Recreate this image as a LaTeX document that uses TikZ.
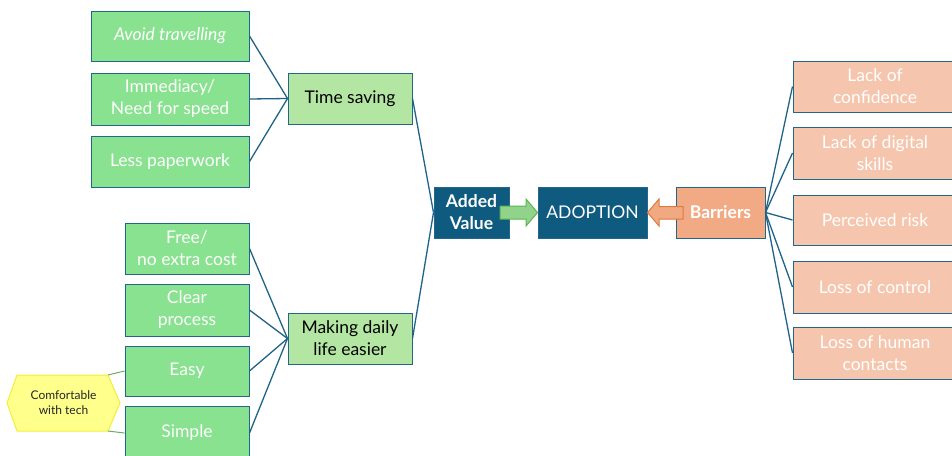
\documentclass[tikz,border=0pt]{standalone}
\usepackage{fontspec}
\setmainfont{Lato}
\definecolor{leafgreen}{HTML}{88E28F}
\definecolor{midgreen}{HTML}{B3E6A2}
\definecolor{edge}{HTML}{22678A}
\definecolor{conn}{HTML}{1F6388}
\definecolor{darkblue}{HTML}{0F5B80}
\definecolor{barrier}{HTML}{F1AA84}
\definecolor{peach}{HTML}{F5C6AD}
\definecolor{hexfill}{HTML}{FFFF8C}
\definecolor{hexedge}{HTML}{F2EE3A}
\definecolor{arrgreen}{HTML}{92D38C}
\definecolor{arrgreenedge}{HTML}{5CB54E}
\definecolor{arrorange}{HTML}{F1A982}
\definecolor{arrorangeedge}{HTML}{DF7A42}
\definecolor{hexline}{HTML}{6DAE5E}
\tikzset{
  base/.style={draw=edge, line width=1pt, inner sep=0pt, align=center,
    font=\fontsize{17.5}{22}\selectfont},
  leaf/.style={base, fill=leafgreen, text=white, minimum width=158pt},
  leafb/.style={base, fill=leafgreen, text=white, minimum width=124pt},
  mid/.style={base, fill=midgreen, text=black, minimum width=124pt},
  core/.style={base, fill=darkblue, text=white},
  barr/.style={base, fill=barrier, text=white, font=\fontsize{17.5}{22}\selectfont\bfseries},
  right/.style={base, fill=peach, text=white, minimum width=164pt},
  link/.style={draw=conn, line width=1.3pt},
  hexlink/.style={draw=hexline, line width=1pt}
}
\begin{document}
\begin{tikzpicture}[x=1pt,y=-1pt]
\useasboundingbox (0,0) rectangle (952,455);
\begin{scope}
\clip (0,0) rectangle (952,455);
% left top
\node[leaf, minimum height=50pt, font=\fontsize{17.5}{22}\selectfont\itshape] (avoid) at (170,36) {Avoid travelling};
\node[leaf, minimum height=52pt] (imm) at (170,99) {Immediacy/\\Need for speed};
\node[leaf, minimum height=51pt] (less) at (170,161.5) {Less paperwork};
\node[mid, minimum height=51pt] (time) at (350,98.5) {Time saving};
% left bottom
\node[leafb, minimum height=51pt] (free) at (187,248.5) {Free/\\no extra cost};
\node[leafb, minimum height=52pt] (clear) at (187,310) {Clear\\process};
\node[leafb, minimum height=50pt] (easy) at (187,371) {Easy};
\node[leafb, minimum height=54pt] (simple) at (187,433) {Simple};
\node[mid, minimum height=51pt] (making) at (350,338.5) {Making daily\\life easier};
% hexagon
\coordinate (hTL) at (17,375);
\coordinate (hTR) at (108,375);
\coordinate (hR) at (120,403);
\coordinate (hBR) at (108,431);
\coordinate (hBL) at (17,431);
\coordinate (hL) at (7,403);
\fill[hexfill, draw=hexedge, line width=1pt] (hL) -- (hTL) -- (hTR) -- (hR) -- (hBR) -- (hBL) -- cycle;
\node[align=center, text=black!85, font=\fontsize{12}{15}\selectfont] (hex) at (63.5,403) {Comfortable\\with tech};
% centre
\node[core, minimum width=75pt, minimum height=51pt, font=\fontsize{17.5}{22}\selectfont\bfseries] (added) at (471.5,212.5) {Added\\Value};
\node[core, minimum width=109pt, minimum height=51pt] (adopt) at (592.5,212.5) {ADOPTION};
\node[barr, minimum width=89pt, minimum height=51pt] (barriers) at (720.5,212.5) {Barriers};
% right
\node[right, minimum height=51pt] (lc) at (875,86.5) {Lack of\\confidence};
\node[right, minimum height=52pt] (lds) at (875,153) {Lack of digital\\skills};
\node[right, minimum height=50pt] (pr) at (875,220) {Perceived risk};
\node[right, minimum height=52pt] (loc) at (875,287) {Loss of control};
\node[right, minimum height=52pt] (lhc) at (875,353) {Loss of human\\contacts};
% connectors
\foreach \n in {avoid,imm,less} \draw[link] (\n.east) -- (time.west);
\foreach \n in {free,clear,easy,simple} \draw[link] (\n.east) -- (making.west);
\draw[link] (time.east) -- (added.west);
\draw[link] (making.east) -- (added.west);
\foreach \n in {lc,lds,pr,loc,lhc} \draw[link] (barriers.east) -- (\n.west);
\draw[hexlink] (hTR) -- (easy.west);
\draw[hexlink] (hBR) -- (simple.west |- 0,433);
% block arrows
\coordinate (gS) at (500,212.5);
\coordinate (gT) at (adopt.west);
\fill[arrgreen, draw=arrgreenedge, line width=1pt]
  (500,206) -- (526,206) -- (526,199) -- (gT) -- (526,226) -- (526,219) -- (500,219) -- cycle;
\coordinate (oT) at (adopt.east);
\fill[arrorange, draw=arrorangeedge, line width=1pt]
  (683,206.5) -- (659,206.5) -- (659,199) -- (oT) -- (659,226) -- (659,219) -- (683,219) -- cycle;
\end{scope}
\end{tikzpicture}
\end{document}
